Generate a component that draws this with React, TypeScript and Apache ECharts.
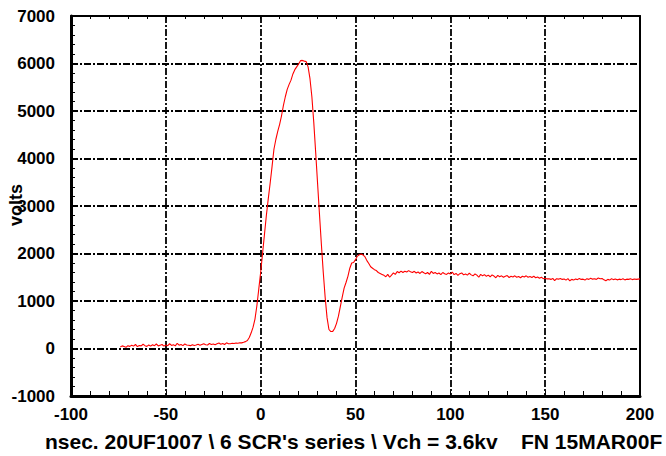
import React, { useEffect, useRef } from "react";
import * as echarts from "echarts";

// sample times: -74 ns .. 200 ns, 1 ns step
const T_START = -74;

const baselineVolts = [
  30, 55, 40, 25, 60, 45, 70, 50, 85, 40,
  65, 55, 90, 60, 45, 75, 50, 80, 60, 95,
  55, 70, 85, 50, 75, 60, 100, 65, 80, 55,
  110, 70, 85, 60, 95, 75, 70, 60, 80, 65,
  75, 90, 70, 85, 100, 80, 75, 105, 85, 95,
  80, 100, 115, 90, 105, 85, 120, 100,
];

const pulseVolts = [
  99, 110, 105, 115, 112, 122, 118, 130, 145, 168,
  230, 330, 450, 620, 900, 1250, 1605, 2000, 2400, 2800,
  3150, 3480, 3830, 4195, 4400, 4570, 4720, 4900, 5120, 5300,
  5456, 5560, 5650, 5780, 5870, 5930, 5990, 6060, 6065, 6050,
  6040, 5930, 5680, 5300, 4760, 4130, 3480, 2830, 2200, 1605,
  1080, 650, 400, 357, 360, 420, 530, 680, 880, 1080,
  1270, 1390, 1520, 1690, 1800, 1810, 1870, 1945, 1975, 1990,
  1970, 1930, 1850, 1790, 1720, 1690, 1660, 1640, 1600, 1580,
  1560,
];

const tailVolts = [
  1540, 1510, 1560, 1500, 1545, 1590, 1560, 1620, 1595, 1630,
  1600, 1625, 1610, 1640, 1615, 1600, 1625, 1590, 1610, 1580,
  1620, 1595, 1575, 1600, 1560, 1625, 1580, 1600, 1570, 1590,
  1555, 1600, 1575, 1560, 1590, 1570, 1610, 1555, 1580, 1540,
  1575, 1590, 1550, 1570, 1545, 1585, 1550, 1530, 1570, 1545,
  1500, 1560, 1530, 1555, 1520, 1545, 1510, 1550, 1525, 1490,
  1540, 1510, 1530, 1500, 1520, 1535, 1495, 1520, 1505, 1530,
  1500, 1515, 1490, 1520, 1505, 1530, 1500, 1515, 1495, 1520,
  1490, 1505, 1480, 1500, 1470, 1480, 1465, 1470, 1455, 1475,
  1430, 1470, 1460, 1475, 1455, 1465, 1440, 1470, 1425, 1455,
  1440, 1465, 1450, 1475, 1455, 1460, 1440, 1470, 1455, 1480,
  1460, 1470, 1455, 1485, 1470, 1475, 1445, 1425, 1455, 1440,
  1470, 1450, 1465, 1445, 1460, 1450, 1470, 1445, 1460, 1455,
  1470, 1450, 1465, 1455, 1460, 1465,
];

const volts = [...baselineVolts, ...pulseVolts, ...tailVolts];

const xTitle = "nsec. 20UF1007 \\ 6 SCR's series \\ Vch = 3.6kv    FN 15MAR00F";
const yTitle = "volts";

const FONT = "'Liberation Sans', Arial, Helvetica, sans-serif";

export default function App() {
  const ref = useRef<HTMLDivElement>(null);

  useEffect(() => {
    if (!ref.current) return;
    const chart = echarts.init(ref.current, null, { renderer: "svg" });
    const data = volts.map((v, i) => [T_START + i, v]);
    const gridLine = {
      show: true,
      lineStyle: { color: "#000", width: 1.8, type: [7, 2, 2, 2] as any },
    };
    const labelStyle = {
      color: "#000",
      fontSize: 17,
      fontWeight: "bold" as const,
      fontFamily: FONT,
      formatter: (v: number) => String(v),
    };
    chart.setOption({
      animation: false,
      backgroundColor: "#fff",
      grid: { left: 71, right: 26, top: 16, bottom: 60, containLabel: false },
      xAxis: [
        {
          type: "value",
          min: -100,
          max: 200,
          interval: 50,
          position: "bottom",
          axisLine: { show: true, onZero: false, lineStyle: { color: "#000", width: 3 } },
          axisTick: { show: true, inside: true, length: 5, lineStyle: { color: "#000", width: 1 } },
          minorTick: { show: true, splitNumber: 5, length: 5, lineStyle: { color: "#000", width: 1 } },
          axisLabel: { ...labelStyle, margin: 10 },
          splitLine: gridLine,
        },
        {
          type: "value",
          min: -100,
          max: 200,
          interval: 50,
          position: "top",
          axisLine: { show: true, onZero: false, lineStyle: { color: "#000", width: 2 } },
          axisTick: { show: true, inside: true, length: 3, lineStyle: { color: "#000", width: 1 } },
          minorTick: { show: true, splitNumber: 5, length: 3, lineStyle: { color: "#000", width: 1 } },
          axisLabel: { show: false },
          splitLine: { show: false },
        },
      ],
      yAxis: [
        {
          type: "value",
          min: -1000,
          max: 7000,
          interval: 1000,
          position: "left",
          axisLine: { show: true, onZero: false, lineStyle: { color: "#000", width: 3 } },
          axisTick: { show: true, inside: true, length: 4, lineStyle: { color: "#000", width: 1 } },
          minorTick: { show: true, splitNumber: 5, length: 4, lineStyle: { color: "#000", width: 1 } },
          axisLabel: { ...labelStyle, margin: 16 },
          splitLine: gridLine,
        },
        {
          type: "value",
          min: -1000,
          max: 7000,
          interval: 1000,
          position: "right",
          axisLine: { show: true, onZero: false, lineStyle: { color: "#000", width: 2 } },
          axisTick: { show: false },
          axisLabel: { show: false },
          splitLine: { show: false },
        },
      ],
      series: [
        {
          type: "line",
          data,
          xAxisIndex: 0,
          yAxisIndex: 0,
          showSymbol: false,
          symbol: "none",
          lineStyle: { color: "#ff0000", width: 1.1 },
          z: 5,
        },
      ],
      graphic: [
        {
          type: "text",
          left: 45,
          top: 431,
          style: {
            text: xTitle,
            fill: "#000",
            font: `bold 21px ${FONT}`,
          },
        },
        {
          type: "text",
          x: 16,
          y: 205,
          rotation: Math.PI / 2,
          style: {
            text: yTitle,
            fill: "#000",
            font: `bold 18px ${FONT}`,
            textAlign: "center",
            textVerticalAlign: "middle",
          },
        },
      ],
    });
    return () => chart.dispose();
  }, []);

  return (
    <div
      ref={ref}
      style={{ position: "fixed", left: 0, top: 0, width: 666, height: 456 }}
    />
  );
}
